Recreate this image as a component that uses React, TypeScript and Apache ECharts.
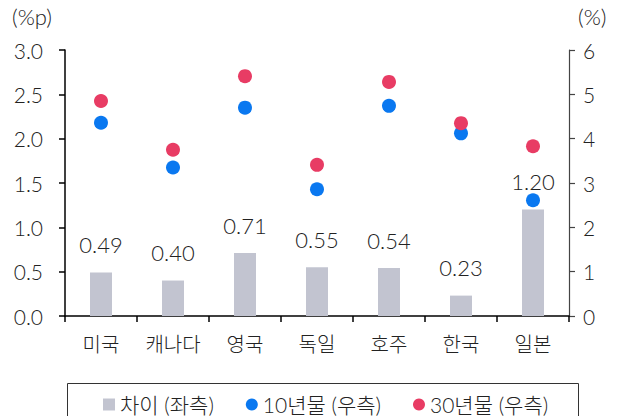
import React, { useEffect, useRef } from "react";
import * as echarts from "echarts";

const categories = ["미국", "캐나다", "영국", "독일", "호주", "한국", "일본"];
const spread = [0.49, 0.40, 0.71, 0.55, 0.54, 0.23, 1.20];
const y10 = [4.36, 3.35, 4.70, 2.86, 4.74, 4.12, 2.61];
const y30 = [4.85, 3.75, 5.41, 3.41, 5.28, 4.35, 3.83];
const seriesNames = ["차이 (좌측)", "10년물 (우측)", "30년물 (우측)"];
const leftUnit = "(%p)";
const rightUnit = "(%)";

const FONT = "Lato, 'Noto Sans CJK KR', sans-serif";
const TXT = "#222";
const W = 300;

export default function App() {
  const ref = useRef<HTMLDivElement>(null);
  useEffect(() => {
    if (!ref.current) return;
    const chart = echarts.init(ref.current, undefined, { renderer: "svg" });
    chart.setOption({
      animation: false,
      textStyle: { fontFamily: FONT, color: TXT, fontWeight: W },
      grid: { left: 65, right: 53, top: 50, bottom: 100, containLabel: false },
      legend: {
        left: 98,
        top: 389,
        itemGap: 32,
        itemWidth: 12,
        itemHeight: 12,
        textStyle: { fontFamily: FONT, fontSize: 21, color: TXT, fontWeight: W },
        data: [
          { name: seriesNames[0], icon: "rect" },
          { name: seriesNames[1], icon: "circle" },
          { name: seriesNames[2], icon: "circle" },
        ],
      },
      graphic: [
        {
          type: "rect",
          shape: { x: 67.5, y: 383.5, width: 511, height: 50 },
          style: { fill: "none", stroke: "#333", lineWidth: 1 },
          silent: true,
        },
        {
          type: "text",
          left: 12,
          top: 5,
          style: { text: leftUnit, font: `${W} 22px ${FONT}`, fill: TXT },
        },
        {
          type: "text",
          left: 578,
          top: 5,
          style: { text: rightUnit, font: `${W} 22px ${FONT}`, fill: TXT },
        },
      ],
      xAxis: {
        type: "category",
        data: categories,
        axisLine: { lineStyle: { color: "#000", width: 1.5 } },
        axisTick: { show: true, length: 6, lineStyle: { color: "#000", width: 1.5 } },
        axisLabel: { fontSize: 20, color: TXT, margin: 18, fontFamily: FONT, fontWeight: W },
      },
      yAxis: [
        {
          type: "value",
          min: 0,
          max: 3,
          interval: 0.5,
          position: "left",
          axisLine: { show: true, lineStyle: { color: "#000", width: 1.5 } },
          axisTick: { show: true, length: 6, lineStyle: { color: "#000", width: 1.5 } },
          axisLabel: {
            fontSize: 21,
            color: TXT,
            margin: 22,
            fontFamily: FONT,
            fontWeight: W,
            formatter: (v: number) => v.toFixed(1),
          },
          splitLine: { show: false },
        },
        {
          type: "value",
          min: 0,
          max: 6,
          interval: 1,
          position: "right",
          axisLine: { show: true, lineStyle: { color: "#444", width: 1.2 } },
          axisTick: { show: true, length: 6, lineStyle: { color: "#444", width: 1.2 } },
          axisLabel: { fontSize: 21, color: TXT, margin: 14, fontFamily: FONT, fontWeight: W },
          splitLine: { show: false },
        },
      ],
      series: [
        {
          name: seriesNames[0],
          type: "bar",
          yAxisIndex: 0,
          data: spread,
          barWidth: 22,
          itemStyle: { color: "#c2c4d0" },
          label: {
            show: true,
            position: "top",
            distance: 17,
            fontSize: 22,
            color: TXT,
            fontFamily: FONT,
            fontWeight: W,
            formatter: (p: any) => Number(p.value).toFixed(2),
          },
          z: 1,
        },
        {
          name: seriesNames[1],
          type: "scatter",
          yAxisIndex: 1,
          data: y10,
          symbol: "circle",
          symbolSize: 14,
          itemStyle: { color: "#0a78f0", opacity: 1 },
          z: 3,
        },
        {
          name: seriesNames[2],
          type: "scatter",
          yAxisIndex: 1,
          data: y30,
          symbol: "circle",
          symbolSize: 14,
          itemStyle: { color: "#e83c64", opacity: 1 },
          z: 3,
        },
      ],
    });
    return () => chart.dispose();
  }, []);
  return <div ref={ref} style={{ width: 622, height: 416, position: "absolute", left: 0, top: 0 }} />;
}
